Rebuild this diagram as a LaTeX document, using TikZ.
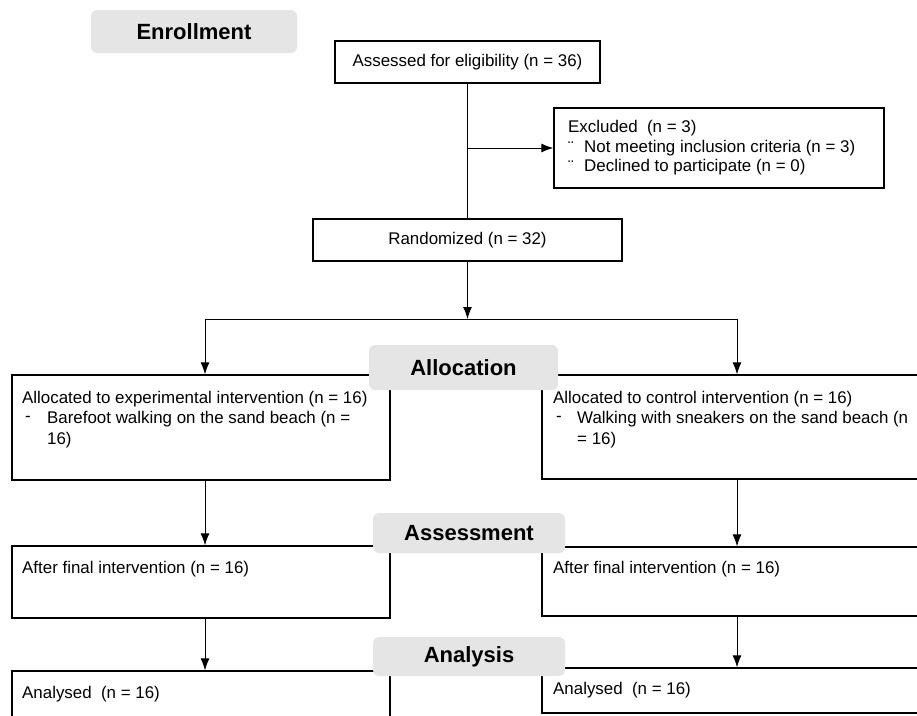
\documentclass[tikz,border=0pt]{standalone}
\usepackage{fontspec}
\setmainfont{Liberation Sans}
\usetikzlibrary{arrows.meta}

\tikzset{
  stage/.style={fill=gray!20,rounded corners=6pt,inner sep=0pt,
    font=\fontsize{22}{26}\selectfont\bfseries},
  link/.style={line width=1pt},
  >={Latex[length=12pt,width=9pt]}
}

\begin{document}
\begin{tikzpicture}[x=1pt,y=-1pt,font=\fontsize{16.9}{20}\selectfont]

        \clip (0,0) rectangle (917,715);

        \begin{scope}[every node/.style={rectangle,draw,line width=1.3pt,inner sep=0pt}]
          \node[minimum width=265,minimum height=42] (assess) at (467.5,62) {Assessed for eligibility (n = 36)};
          \node[minimum width=330,minimum height=80] (excl)   at (719,148)  {};
          \node[minimum width=309,minimum height=42] (rand)   at (467.5,240) {Randomized (n = 32)};
          \node[minimum width=378,minimum height=105] (allocE) at (201,427.5) {};
          \node[minimum width=418,minimum height=104] (allocC) at (751,427)   {};
          \node[minimum width=378,minimum height=72] (afterE) at (201,582)   {};
          \node[minimum width=418,minimum height=69] (afterC) at (751,581.5) {};
          \node[minimum width=378,minimum height=100] (anaE)   at (201,721)   {};
          \node[minimum width=418,minimum height=45] (anaC)   at (751,690.5) {};
        \end{scope}

        \begin{scope}[every node/.style={anchor=west,inner sep=0pt}]
          \node (exclT)  at (568,128) {Excluded~~(n = 3)};
          \node (exclB1) at (568,148) {¨};
          \node (exclT1) at (584,148) {Not meeting inclusion criteria (n = 3)};
          \node (exclB2) at (568,167) {¨};
          \node (exclT2) at (584,167) {Declined to participate (n = 0)};
          \node (allocET)  at (22,399) {Allocated to experimental intervention (n = 16)};
          \node (allocED)  at (25,419) {-};
          \node (allocET1) at (47,419) {Barefoot walking on the sand beach (n =};
          \node (allocET2) at (47,440) {16)};
          \node (allocCT)  at (553,399) {Allocated to control intervention (n = 16)};
          \node (allocCD)  at (556,419) {-};
          \node (allocCT1) at (577,419) {Walking with sneakers on the sand beach (n};
          \node (allocCT2) at (577,440) {= 16)};
          \node (afterET) at (22,569)  {After final intervention (n = 16)};
          \node (afterCT) at (553,569) {After final intervention (n = 16)};
          \node (anaET)   at (22,694)  {Analysed~~(n = 16)};
          \node (anaCT)   at (553,690) {Analysed~~(n = 16)};
        \end{scope}

        \coordinate (branch) at (467.5,148);
        \coordinate (split)  at (467.5,319);
        \coordinate (sL)     at (205,319);
        \coordinate (sR)     at (737,319);

        \begin{scope}[every edge/.style={draw,link}]
          \path (assess) edge (rand);
          \path (branch) edge[->] (excl.west);
          \path (rand) edge[->] (split);
          \path (sL) edge (sR);
          \path (sL) edge[->] (sL |- allocE.north);
          \path (sR) edge[->] (sR |- allocC.north);
          \path (allocE.south -| sL) edge[->] (afterE.north -| sL);
          \path (allocC.south -| sR) edge[->] (afterC.north -| sR);
          \path (afterE.south -| sL) edge[->] (anaE.north -| sL);
          \path (afterC.south -| sR) edge[->] (anaC.north -| sR);
        \end{scope}

        \node[stage,minimum width=206,minimum height=43] (enroll)  at (194,31.5)  {Enrollment};
        \node[stage,minimum width=189,minimum height=45] (alloc)   at (463.5,367.5) {Allocation};
        \node[stage,minimum width=192,minimum height=40] (assessm) at (469,533)   {Assessment};
        \node[stage,minimum width=192,minimum height=39] (analys)  at (469,656.5) {Analysis};

      \end{tikzpicture}
\end{document}
